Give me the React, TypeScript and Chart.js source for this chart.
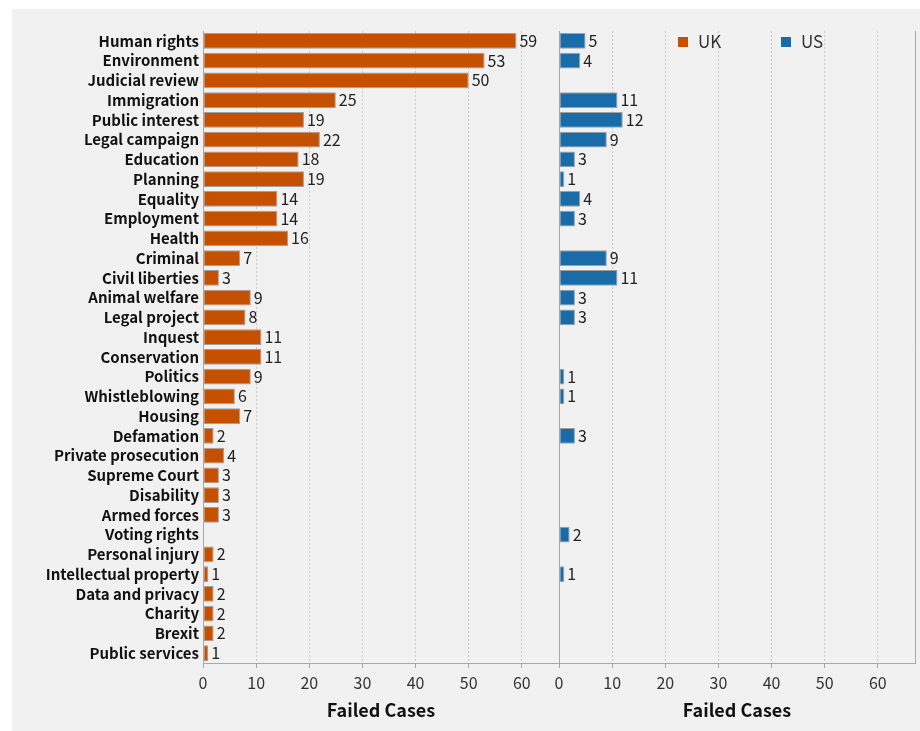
import React, { useEffect, useRef } from "react";
import { Chart, registerables } from "chart.js";
Chart.register(...registerables);

const categories = [
  "Human rights", "Environment", "Judicial review", "Immigration", "Public interest",
  "Legal campaign", "Education", "Planning", "Equality", "Employment", "Health",
  "Criminal", "Civil liberties", "Animal welfare", "Legal project", "Inquest",
  "Conservation", "Politics", "Whistleblowing", "Housing", "Defamation",
  "Private prosecution", "Supreme Court", "Disability", "Armed forces", "Voting rights",
  "Personal injury", "Intellectual property", "Data and privacy", "Charity", "Brexit",
  "Public services",
];

const ukValues: (number | null)[] = [
  59, 53, 50, 25, 19, 22, 18, 19, 14, 14, 16, 7, 3, 9, 8, 11, 11, 9, 6, 7, 2, 4, 3, 3, 3,
  null, 2, 1, 2, 2, 2, 1,
];

const usValues: (number | null)[] = [
  5, 4, null, 11, 12, 9, 3, 1, 4, 3, null, 9, 11, 3, 3, null, null, 1, 1, null, 3, null,
  null, null, null, 2, null, 1, null, null, null, null,
];

const xTickValues = [0, 10, 20, 30, 40, 50, 60];
const seriesNames = ["UK", "US"];
const seriesColors = ["#c55000", "#1a6ca8"];
const axisTitle = "Failed Cases";
const xMax = 67;

const FONT = "'Noto Sans CJK JP', 'Noto Sans', sans-serif";
const GRID = "#c8c8c8";
const AXIS = "#a8a8a8";

const valueLabels = {
  id: "valueLabels",
  afterDatasetsDraw(chart: any) {
    const ctx = chart.ctx;
    ctx.save();
    ctx.font = `16px ${FONT}`;
    ctx.fillStyle = "#222";
    ctx.textAlign = "left";
    ctx.textBaseline = "middle";
    chart.data.datasets.forEach((ds: any, i: number) => {
      const meta = chart.getDatasetMeta(i);
      meta.data.forEach((el: any, j: number) => {
        const v = ds.data[j];
        if (v == null) return;
        ctx.fillText(String(v), el.x + 3, el.y);
      });
    });
    ctx.restore();
  },
};

const customLegend = {
  id: "customLegend",
  afterDraw(chart: any) {
    const ctx = chart.ctx;
    const { left, top } = chart.chartArea;
    const offsets = [119, 222];
    ctx.save();
    ctx.font = `17px ${FONT}`;
    ctx.textBaseline = "middle";
    ctx.textAlign = "left";
    seriesNames.forEach((name, i) => {
      const x = left + offsets[i];
      const y = top + 11;
      ctx.fillStyle = seriesColors[i];
      ctx.fillRect(x, y - 5, 10, 10);
      ctx.fillStyle = "#333";
      ctx.fillText(name, x + 20, y);
    });
    ctx.restore();
  },
};

function xScale() {
  return {
    type: "linear",
    min: 0,
    max: xMax,
    afterBuildTicks: (scale: any) => {
      scale.ticks = xTickValues.map((v) => ({ value: v }));
    },
    afterFit: (scale: any) => {
      scale.height = 68;
    },
    ticks: {
      font: { family: FONT, size: 16 },
      color: "#333",
      padding: 5,
      maxRotation: 0,
    },
    grid: {
      color: GRID,
      lineWidth: 1,
      tickLength: 5,
      drawTicks: true,
      tickColor: AXIS,
      tickBorderDash: [],
    },
    border: { display: true, color: AXIS, width: 1, dash: [2, 2] },
    title: {
      display: true,
      text: axisTitle,
      font: { family: FONT, size: 18, weight: "bold" },
      color: "#111",
      padding: { top: 0, bottom: 10 },
    },
  };
}

function makeConfig(side: "left" | "right"): any {
  const isLeft = side === "left";
  return {
    type: "bar",
    data: {
      labels: categories,
      datasets: [
        {
          label: isLeft ? seriesNames[0] : seriesNames[1],
          data: isLeft ? ukValues : usValues,
          backgroundColor: isLeft ? seriesColors[0] : seriesColors[1],
          borderColor: "#a0a0a0",
          borderWidth: 1,
          borderSkipped: false,
          barPercentage: 0.8,
          categoryPercentage: 1,
        },
      ],
    },
    options: {
      indexAxis: "y",
      responsive: false,
      animation: false,
      layout: {
        padding: { top: 22, bottom: 0, left: 0, right: isLeft ? 0 : 5 },
      },
      plugins: {
        legend: { display: false },
        tooltip: { enabled: false },
      },
      scales: {
        x: xScale(),
        y: {
          type: "category",
          position: "left",
          afterFit: (scale: any) => {
            scale.width = isLeft ? 191 : 19;
          },
          ticks: {
            display: isLeft,
            font: { family: FONT, size: 15, weight: "bold" },
            color: "#111",
            padding: 4,
            autoSkip: false,
          },
          grid: { display: false, drawTicks: false },
          border: { display: true, color: AXIS, width: 1 },
        },
        ...(isLeft
          ? {}
          : {
              y2: {
                type: "category",
                position: "right",
                labels: categories,
                afterFit: (scale: any) => {
                  scale.width = 0;
                },
                ticks: { display: false },
                grid: { display: false, drawTicks: false },
                border: { display: true, color: AXIS, width: 1 },
              },
            }),
      },
    },
    plugins: isLeft ? [valueLabels] : [valueLabels, customLegend],
  };
}

function BarPanel({ side, left, width }: { side: "left" | "right"; left: number; width: number }) {
  const ref = useRef<HTMLCanvasElement | null>(null);
  useEffect(() => {
    if (!ref.current) return;
    const chart = new Chart(ref.current, makeConfig(side));
    return () => chart.destroy();
  }, [side]);
  return (
    <canvas
      ref={ref}
      width={width}
      height={722}
      style={{ position: "absolute", left, top: 0, width, height: 722 }}
    />
  );
}

export default function App() {
  return (
    <div
      style={{
        position: "fixed",
        left: 12,
        top: 9,
        width: 908,
        height: 722,
        background: "#f1f1f1",
        overflow: "hidden",
      }}
    >
      <BarPanel side="left" left={0} width={547} />
      <BarPanel side="right" left={528} width={380} />
    </div>
  );
}
